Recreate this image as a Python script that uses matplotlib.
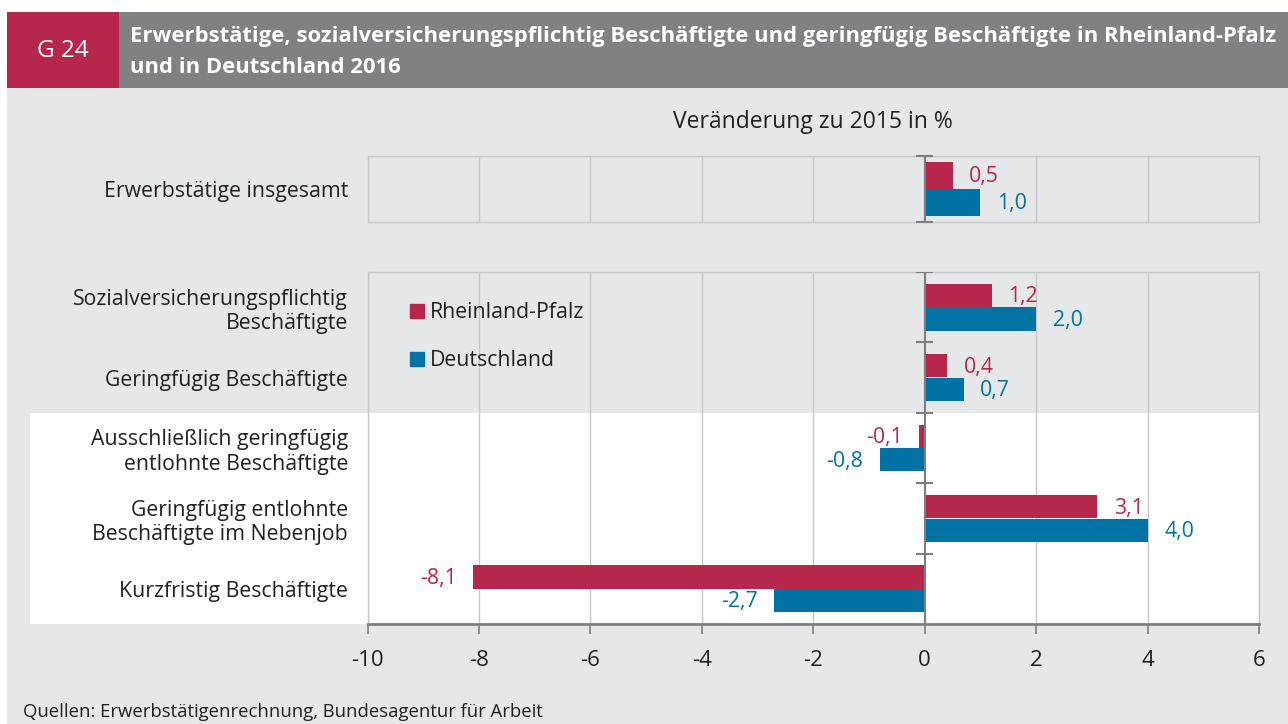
import numpy as np
import matplotlib.pyplot as plt
from matplotlib.patches import Rectangle
from matplotlib.lines import Line2D

plt.rcParams['font.family'] = ['Open Sans', 'DejaVu Sans']

# data
top_cat = ['Erwerbstätige insgesamt']
top_rp = [0.5]
top_de = [1.0]

cats = ['Sozialversicherungspflichtig\nBeschäftigte',
        'Geringfügig Beschäftigte',
        'Ausschließlich geringfügig\nentlohnte Beschäftigte',
        'Geringfügig entlohnte\nBeschäftigte im Nebenjob',
        'Kurzfristig Beschäftigte']
rp = [1.2, 0.4, -0.1, 3.1, -8.1]
de = [2.0, 0.7, -0.8, 4.0, -2.7]

RED = '#b7274b'
BLUE = '#0073a4'
BG = '#e6e7e9'
GRID = '#c8c8ca'
DARK = '#7d7e80'
TXT = '#231f20'

W, H = 1288, 724
fig = plt.figure(figsize=(W / 100, H / 100), dpi=100)

# header + background
fig.patches.append(Rectangle((7 / W, 0), 1 - 7 / W, 1 - 88 / H, transform=fig.transFigure,
                             facecolor=BG, edgecolor='none', zorder=-5))
fig.patches.append(Rectangle((7 / W, 1 - 88 / H), 112 / W, 76 / H, transform=fig.transFigure,
                             facecolor=RED, edgecolor='none', zorder=-4))
fig.patches.append(Rectangle((119 / W, 1 - 88 / H), 1 - 119 / W, 76 / H, transform=fig.transFigure,
                             facecolor='#808184', edgecolor='none', zorder=-4))
fig.text(63 / W, 1 - 51 / H, 'G 24', color='white', fontsize=17.5, ha='center', va='center')
fig.text(130 / W, 1 - 52 / H,
         'Erwerbstätige, sozialversicherungspflichtig Beschäftigte und geringfügig Beschäftigte in Rheinland-Pfalz\n'
         'und in Deutschland 2016',
         color='white', fontsize=15.8, fontweight='bold', ha='left', va='center', linespacing=1.6)
fig.text(23 / W, 1 - 712 / H, 'Quellen: Erwerbstätigenrechnung, Bundesagentur für Arbeit',
         color=TXT, fontsize=13.3, ha='left', va='center')

x0, x1 = 367.5, 1259
ax_top = fig.add_axes([x0 / W, 1 - 222 / H, (x1 - x0) / W, 66 / H])
ax = fig.add_axes([x0 / W, 1 - 624 / H, (x1 - x0) / W, 352 / H])

xticks = np.arange(-10, 7, 2)
FS = 15.3

def style(a):
    a.set_facecolor(BG)
    a.set_xlim(-10, 6)
    a.set_xticks(xticks)
    for x in xticks:
        if x != 0:
            a.axvline(x, color=GRID, lw=1, zorder=0.5)
    for s in a.spines.values():
        s.set_color(GRID)
        s.set_linewidth(1)
    a.tick_params(axis='y', length=0, pad=14, labelsize=FS, labelcolor=TXT)

def labels(a, vals, ys, color):
    for v, y in zip(vals, ys):
        txt = ('%.1f' % v).replace('.', ',')
        a.annotate(txt, (v, y), xytext=(12 if v >= 0 else -12, -1), textcoords='offset points',
                   ha='left' if v >= 0 else 'right', va='center', color=color, fontsize=FS)

# top panel
style(ax_top)
ax_top.set_ylim(0.5, -0.5)
yt = np.arange(len(top_cat))
ax_top.barh(yt - 0.205, top_rp, height=0.41, color=RED, zorder=2)
ax_top.barh(yt + 0.205, top_de, height=0.41, color=BLUE, zorder=2)
labels(ax_top, top_rp, yt - 0.205, RED)
labels(ax_top, top_de, yt + 0.205, BLUE)
ax_top.set_yticks(yt)
ax_top.set_yticklabels(top_cat)
ax_top.tick_params(axis='x', length=0, labelbottom=False)
ax_top.axvline(0, color=DARK, lw=1.5, zorder=3)
for yb in [-0.5, 0.5]:
    ax_top.plot([-0.14, 0.14], [yb, yb], color=DARK, lw=1.5, zorder=3, clip_on=False)
ax_top.set_title('Veränderung zu 2015 in %', fontsize=16.5, color=TXT, pad=20)

# lower panel
style(ax)
y = np.arange(len(cats))
ax.set_ylim(len(cats) - 0.5, -0.5)
ax.axhspan(1.5, len(cats) - 0.5, xmin=-(x0 - 30) / (x1 - x0), xmax=1, facecolor='white',
           edgecolor='none', zorder=0.1, clip_on=False)
ax.barh(y - 0.167, rp, height=0.33, color=RED, zorder=2, label='Rheinland-Pfalz')
ax.barh(y + 0.167, de, height=0.33, color=BLUE, zorder=2, label='Deutschland')
labels(ax, rp, y - 0.167, RED)
labels(ax, de, y + 0.167, BLUE)
ax.set_yticks(y)
ax.set_yticklabels(cats)
ax.axvline(0, color=DARK, lw=1.5, zorder=3)
for yb in np.arange(-0.5, len(cats) - 0.5, 1.0):
    ax.plot([-0.14, 0.14], [yb, yb], color=DARK, lw=1.5, zorder=3)
ax.spines['bottom'].set_color(DARK)
ax.spines['bottom'].set_linewidth(2)
ax.tick_params(axis='x', length=7, width=1.2, color=DARK, labelsize=16, labelcolor=TXT, pad=12)
ax.set_xticklabels([str(t) for t in xticks])

handles = [Line2D([], [], marker='s', ls='', color=RED, markersize=10),
           Line2D([], [], marker='s', ls='', color=BLUE, markersize=10)]
ax.legend(handles, ['Rheinland-Pfalz', 'Deutschland'], loc='upper left', bbox_to_anchor=(0.027, 0.968),
          frameon=False, fontsize=FS, handlelength=0.6, handletextpad=0.3, labelspacing=1.25,
          labelcolor=TXT)

fig.savefig('out.png', dpi=100)
